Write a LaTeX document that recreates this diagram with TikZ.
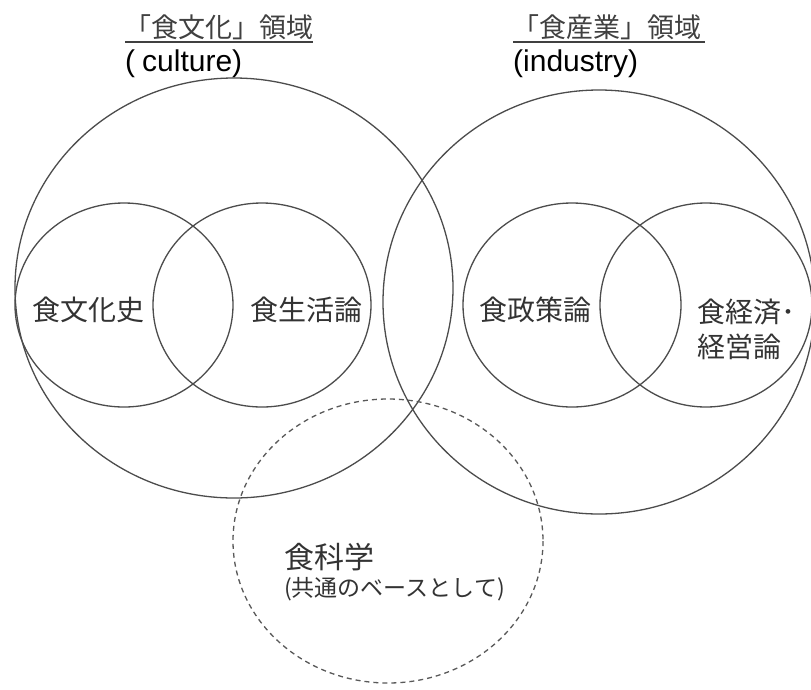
\documentclass[tikz,border=0pt]{standalone}
\usepackage{fontspec}
\setmainfont{Noto Sans CJK JP}
\newfontfamily\latinfont{Liberation Sans}
\begin{document}
\begin{tikzpicture}[x=1pt,y=-1pt,
  ring/.style={draw=black!70, line width=1.3pt},
  dashring/.style={draw=black!65, line width=1.3pt, dash pattern=on 5pt off 4pt},
  lbl/.style={inner sep=0pt, text=black!80, font=\fontsize{28}{34}\selectfont},
  ttl/.style={inner sep=0pt, text=black!75, font=\fontsize{27}{32}\selectfont, anchor=west},
  lat/.style={inner sep=0pt, text=black, font=\latinfont\fontsize{30}{34}\selectfont, anchor=west},
  small/.style={inner sep=0pt, text=black!80, font=\fontsize{23}{28}\selectfont, anchor=west}]
\useasboundingbox (0,0) rectangle (811,689);
\fill[white] (0,0) rectangle (811,689);
% big circles
\draw[ring] (234,288) ellipse [x radius=219, y radius=210];
\draw[ring] (599,302) ellipse [x radius=216, y radius=212];
% small circles
\draw[ring] (124,305) ellipse [x radius=109, y radius=102];
\draw[ring] (262,305) ellipse [x radius=109, y radius=102];
\draw[ring] (572,305) ellipse [x radius=109, y radius=102];
\draw[ring] (706,305) ellipse [x radius=106, y radius=102];
% dashed circle
\draw[dashring] (388,541) ellipse [x radius=155, y radius=142];
% titles
\node[ttl] (t1) at (124,27) {「食文化」領域};
\draw[black!75, line width=1.2pt] (125,42) -- (313,42);
\node[lat] (c1) at (125,64) {(\hspace{7pt}culture)};
\node[ttl] (t2) at (512,27) {「食産業」領域};
\draw[black!75, line width=1.2pt] (513,42) -- (705,42);
\node[lat] (c2) at (513,64) {(industry)};
% labels
\node[lbl] (a) at (88,310) {食文化史};
\node[lbl] (b) at (306,310) {食生活論};
\node[lbl] (c) at (535,310) {食政策論};
\node[lbl, anchor=west] (d1) at (697,312) {食経済･};
\node[lbl, anchor=west] (d2) at (697,347) {経営論};
\node[lbl, anchor=west, font=\fontsize{30}{34}\selectfont] (e1) at (284,557) {食科学};
\node[small] (e2) at (284,589) {(共通のベースとして)};
\end{tikzpicture}
\end{document}
